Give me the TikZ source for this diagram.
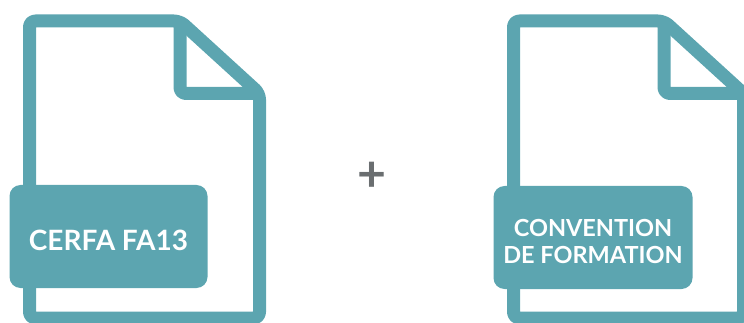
\documentclass[tikz,border=0pt]{standalone}
\usepackage{fontspec}
\setmainfont{Lato}
\definecolor{teal}{HTML}{5CA5B0}
\definecolor{plusgray}{HTML}{6A6E70}
\begin{document}
\begin{tikzpicture}[
  x=1pt,y=-1pt,
  every node/.style={align=center},
  doc/.style={draw=teal,line width=13pt,rounded corners=6pt,line join=round},
  banner/.style={fill=teal,rounded corners=11pt,text=white,inner sep=0pt,
                 minimum height=103pt},
  plussign/.style={text=plusgray,inner sep=0pt,
                 font=\fontsize{50}{50}\selectfont\bfseries}
]
\useasboundingbox (0,0) rectangle (744,323);
\clip (0,0) rectangle (744,323);
% the two file outlines
\foreach \docx in {0,484}{
  \draw[doc,xshift=\docx pt] (29.5,21) -- (180,21) -- (259.5,93.5) -- (259.5,318)
    -- (29.5,318) -- cycle;
  \draw[doc,xshift=\docx pt] (180,21) -- (180,93.5) -- (259.5,93.5);
}
\node[banner,minimum width=198pt,font=\fontsize{28}{27}\selectfont\bfseries,
  text height=28pt] (cerfa) at (108.5,236.5) {CERFA FA13};
\node[banner,minimum width=199pt,font=\fontsize{23.5}{27}\selectfont\bfseries,
  text height=52pt] (convention) at (593,237.5) {CONVENTION\\DE FORMATION};
\node[plussign] (plus) at (372,176.5) {+};
\end{tikzpicture}
\end{document}
